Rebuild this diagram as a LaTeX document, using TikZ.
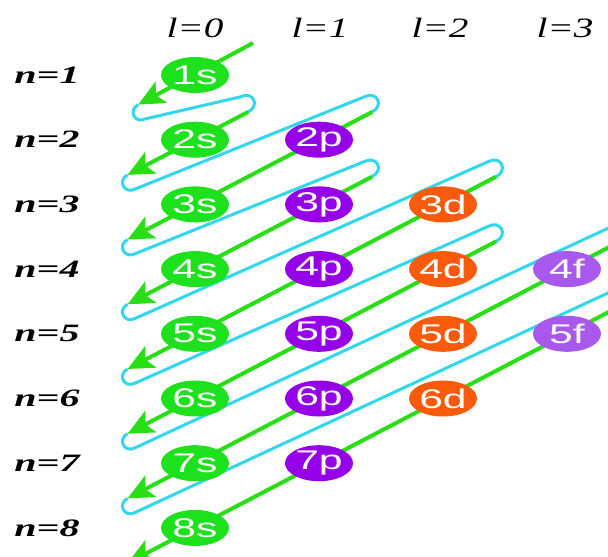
\documentclass[tikz,border=0pt]{standalone}
\usepackage{graphicx}
\usepackage{fontspec}
\setmainfont{Liberation Sans}
\newfontfamily\lblfont{Liberation Serif}
\usetikzlibrary{calc,arrows.meta,shapes.geometric}
\definecolor{gline}{RGB}{40,222,20}
\definecolor{cline}{RGB}{50,215,238}
\definecolor{sfill}{RGB}{30,225,30}
\definecolor{pfill}{RGB}{150,0,232}
\definecolor{dfill}{RGB}{250,90,10}
\definecolor{ffill}{RGB}{168,88,236}
\newcommand{\otxt}[1]{\scalebox{1.58}[1]{\fontsize{27}{27}\selectfont #1}}
\newcommand{\rtxt}[1]{\scalebox{1.6}[1]{\fontsize{25}{25}\selectfont\lblfont\bfseries\itshape #1}}
\newcommand{\ctxt}[1]{\scalebox{1.4}[1]{\fontsize{28}{28}\selectfont\lblfont\itshape #1}}
\begin{document}
\begin{tikzpicture}[x=1pt,y=-1pt,
  orb/.style={ellipse,minimum width=68pt,minimum height=36pt,inner sep=0pt,text=white},
  sorb/.style={orb,fill=sfill},
  porb/.style={orb,fill=pfill},
  dorb/.style={orb,fill=dfill},
  forb/.style={orb,fill=ffill},
  gl/.style={draw=gline,line width=4pt,-{Stealth[length=26pt,width=24pt,inset=6pt]}},
  cl/.style={draw=cline,line width=3pt},
  lbl/.style={inner sep=0pt}]
\useasboundingbox (0,0) rectangle (608,557);
\fill[white] (0,0) rectangle (608,557);
\clip (0,0) rectangle (608,557);
% orbital positions
\coordinate (c1s) at (195,75);
\coordinate (c2s) at (195,139.7);
\coordinate (c3s) at (195,204.4);
\coordinate (c4s) at (195,269.1);
\coordinate (c5s) at (195,333.8);
\coordinate (c6s) at (195,398.5);
\coordinate (c7s) at (195,463.2);
\coordinate (c8s) at (195,527.9);
\coordinate (c2p) at (319,139.7);
\coordinate (c3p) at (319,204.4);
\coordinate (c4p) at (319,269.1);
\coordinate (c5p) at (319,333.8);
\coordinate (c6p) at (319,398.5);
\coordinate (c7p) at (319,463.2);
\coordinate (c3d) at (443,204.4);
\coordinate (c4d) at (443,269.1);
\coordinate (c5d) at (443,333.8);
\coordinate (c6d) at (443,398.5);
\coordinate (c4f) at (567,269.1);
\coordinate (c5f) at (567,333.8);
% directions
\coordinate (u) at (0.8866,-0.4626);
\coordinate (p) at (0.4626,0.8866);
% start and end points of the diagonals
\coordinate (S1) at (253,43);
\coordinate (S2) at ($(c2s)+60*(u)$);
\coordinate (S3) at ($(c2p)+60*(u)$);
\coordinate (S4) at ($(c3p)+60*(u)$);
\coordinate (S5) at ($(c3d)+60*(u)$);
\coordinate (S6) at ($(c4d)+60*(u)$);
\coordinate (S7) at ($(c4f)+60*(u)$);
\coordinate (S8) at ($(c5f)+60*(u)$);
\coordinate (E1) at ($(c1s)-64*(u)$);
\coordinate (E2) at ($(c2s)-76*(u)$);
\coordinate (E3) at ($(c3s)-76*(u)$);
\coordinate (E4) at ($(c4s)-76*(u)$);
\coordinate (E5) at ($(c5s)-76*(u)$);
\coordinate (E6) at ($(c6s)-76*(u)$);
\coordinate (E7) at ($(c7s)-76*(u)$);
\coordinate (E8) at ($(c8s)-76*(u)$);
\foreach \m in {1,...,8}{
  \coordinate (B\m) at ($(E\m)+16*(p)$);
  \coordinate (T\m) at ($(S\m)-17*(p)$);
}
% cyan return loops
\foreach \a/\b in {1/2,2/3,3/4,4/5,5/6,6/7,7/8}{
  \draw[cl] (E\a) .. controls ($(E\a)-12*(u)$) and ($(B\a)-12*(u)$) .. (B\a)
     -- (T\b) .. controls ($(T\b)+14*(u)$) and ($(S\b)+14*(u)$) .. (S\b);
}
% green diagonals
\foreach \m in {1,...,8}{
  \draw[gl] (S\m) -- (E\m);
}
% orbitals
\node[sorb] (n1s) at (c1s) {\otxt{1s}};
\node[sorb] (n2s) at (c2s) {\otxt{2s}};
\node[sorb] (n3s) at (c3s) {\otxt{3s}};
\node[sorb] (n4s) at (c4s) {\otxt{4s}};
\node[sorb] (n5s) at (c5s) {\otxt{5s}};
\node[sorb] (n6s) at (c6s) {\otxt{6s}};
\node[sorb] (n7s) at (c7s) {\otxt{7s}};
\node[sorb] (n8s) at (c8s) {\otxt{8s}};
\node[porb] (n2p) at (c2p) {\otxt{2p}};
\node[porb] (n3p) at (c3p) {\otxt{3p}};
\node[porb] (n4p) at (c4p) {\otxt{4p}};
\node[porb] (n5p) at (c5p) {\otxt{5p}};
\node[porb] (n6p) at (c6p) {\otxt{6p}};
\node[porb] (n7p) at (c7p) {\otxt{7p}};
\node[dorb] (n3d) at (c3d) {\otxt{3d}};
\node[dorb] (n4d) at (c4d) {\otxt{4d}};
\node[dorb] (n5d) at (c5d) {\otxt{5d}};
\node[dorb] (n6d) at (c6d) {\otxt{6d}};
\node[forb] (n4f) at (c4f) {\otxt{4f}};
\node[forb] (n5f) at (c5f) {\otxt{5f}};
% row labels
\node[lbl] (r1) at (47,75) {\rtxt{n=1}};
\node[lbl] (r2) at (47,139.7) {\rtxt{n=2}};
\node[lbl] (r3) at (47,204.4) {\rtxt{n=3}};
\node[lbl] (r4) at (47,269.1) {\rtxt{n=4}};
\node[lbl] (r5) at (47,333.8) {\rtxt{n=5}};
\node[lbl] (r6) at (47,398.5) {\rtxt{n=6}};
\node[lbl] (r7) at (47,463.2) {\rtxt{n=7}};
\node[lbl] (r8) at (47,527.9) {\rtxt{n=8}};
% column labels
\node[lbl] (l0) at (195,28) {\ctxt{l=0}};
\node[lbl] (l1) at (320,28) {\ctxt{l=1}};
\node[lbl] (l2) at (440,28) {\ctxt{l=2}};
\node[lbl] (l3) at (565,28) {\ctxt{l=3}};
\end{tikzpicture}
\end{document}
